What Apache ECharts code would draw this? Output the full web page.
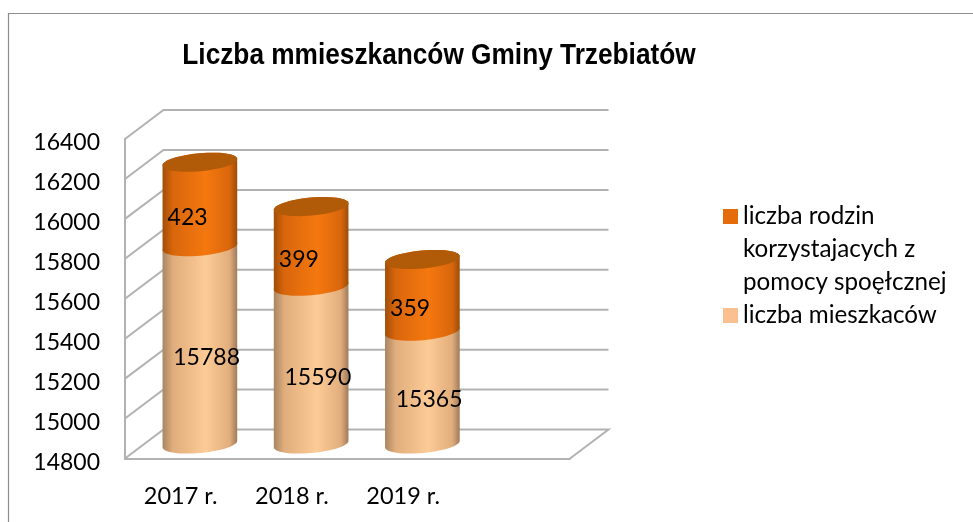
<!DOCTYPE html>
<html>
<head>
<meta charset="utf-8">
<style>html,body{margin:0;padding:0;background:#fff}#c{width:973px;height:522px}</style>
<script src="https://cdn.jsdelivr.net/npm/echarts@6/dist/echarts.min.js"></script>
</head>
<body>
<div id="c"></div>
<script>
const categories = ['2017 r.', '2018 r.', '2019 r.', ''];
const residents = [15788, 15590, 15365];
const families = [423, 399, 359];
const yTicks = [14800, 15000, 15200, 15400, 15600, 15800, 16000, 16200, 16400];
const residentsName = 'liczba mieszkaców';
const familiesName = 'liczba rodzin\nkorzystajacych z\npomocy spoęłcznej';
const titleText = 'Liczba mmieszkanców Gminy Trzebiatów';

const DEPTH_X = 38.5, DEPTH_Y = -29;
const LATIN = 'Lato, "Open Sans", sans-serif';
const GRID_COLOR = '#b2b2b2';
const yMin = yTicks[0], yMax = yTicks[yTicks.length - 1];

function ellipseArc(cx, cy, rx, ry, from, to, n) {
  const a = -5.2 * Math.PI / 180, pts = [];
  for (let i = 0; i <= n; i++) {
    const t = from + (to - from) * i / n;
    pts.push([
      cx + rx * Math.cos(t) * Math.cos(a) - ry * Math.sin(t) * Math.sin(a),
      cy + rx * Math.cos(t) * Math.sin(a) + ry * Math.sin(t) * Math.cos(a)
    ]);
  }
  return pts;
}
function grad(edgeL, mid, edgeR) {
  return { type: 'linear', x: 0, y: 0, x2: 1, y2: 0, colorStops: [
    { offset: 0, color: edgeL }, { offset: 0.14, color: mid[0] },
    { offset: 0.58, color: mid[1] }, { offset: 0.9, color: mid[0] }, { offset: 1, color: edgeR }
  ]};
}
function cylinder(fill, capColor, labelDx, labelDy) {
  return function (params, api) {
    const band = api.size([1, 0])[0];
    const rx = band * 0.337, ry = 9;
    const i = api.value(0);
    const b = api.coord([i, api.value(1)]);
    const t = api.coord([i, api.value(2)]);
    const cx = b[0] + DEPTH_X / 2;
    const by = b[1] + DEPTH_Y / 2, ty = t[1] + DEPTH_Y / 2;
    const sidePts = ellipseArc(cx, by, rx, ry, Math.PI, 0, 28).concat(ellipseArc(cx, ty, rx, ry, 0, -Math.PI, 28));
    const children = [{ type: 'polygon', shape: { points: sidePts }, style: { fill: fill } }];
    if (capColor) {
      children.push({ type: 'polygon', shape: { points: ellipseArc(cx, ty, rx, ry, 0, 2 * Math.PI, 56) }, style: { fill: capColor } });
    }
    children.push({
      type: 'text',
      style: {
        x: b[0] + labelDx, y: (by + ty) / 2 + labelDy,
        text: String(api.value(3)), align: 'center', verticalAlign: 'middle',
        font: '23px ' + LATIN, fill: '#000'
      }
    });
    return { type: 'group', children: children };
  };
}

const option = {
  animation: false,
  backgroundColor: '#fff',
  graphic: [{
    type: 'rect', silent: true, z: -1,
    shape: { x: 8.5, y: 13.5, width: 1000, height: 600 },
    style: { fill: 'none', stroke: '#8c8c8c', lineWidth: 1.2 }
  }, {
    type: 'text', silent: true,
    x: 439, y: 56, scaleX: 0.905,
    style: {
      text: titleText, align: 'center', verticalAlign: 'middle', fill: '#000',
      font: 'bold 29px "Liberation Sans", Arial, sans-serif'
    }
  }],
  legend: {
    left: 718, top: 129, orient: 'vertical', icon: 'rect',
    itemWidth: 15, itemHeight: 15, itemGap: 0,
    data: [familiesName, residentsName],
    selectedMode: false,
    formatter: function (n) { return n === familiesName ? '\u00a0\n\u00a0\n' + n : n; },
    textStyle: { fontFamily: LATIN, fontSize: 24.2, lineHeight: 33, color: '#000' }
  },
  grid: { left: 125, top: 139, width: 445, height: 319.5, containLabel: false },
  xAxis: {
    type: 'category', data: categories,
    axisTick: { show: false },
    axisLine: { show: true, lineStyle: { color: GRID_COLOR, width: 2 } },
    axisLabel: { margin: 26, color: '#000', fontFamily: LATIN, fontSize: 23.5, interval: 0 }
  },
  yAxis: {
    type: 'value', min: yMin, max: yMax, interval: 200,
    splitLine: { show: false },
    axisTick: { show: false },
    axisLine: { show: true, lineStyle: { color: GRID_COLOR, width: 2 } },
    axisLabel: { margin: 25, color: '#000', fontFamily: LATIN, fontSize: 23, verticalAlign: 'top', lineHeight: 8,
      formatter: function (v) { return String(v); } }
  },
  series: [
    {
      type: 'custom', name: 'walls', silent: true, z: 1,
      encode: { x: 0, y: 1 },
      data: yTicks.map(v => [0, v]),
      renderItem: function (params, api) {
        const cs = params.coordSys;
        const y = api.coord([0, api.value(1)])[1];
        const pts = [[cs.x, y], [cs.x + DEPTH_X, y + DEPTH_Y], [cs.x + cs.width + DEPTH_X, y + DEPTH_Y]];
        if (api.value(1) === yMin) pts.push([cs.x + cs.width, y]);
        return { type: 'polyline', shape: { points: pts }, style: { fill: 'none', stroke: GRID_COLOR, lineWidth: 2 } };
      }
    },
    {
      type: 'custom', name: residentsName, z: 2, silent: true,
      itemStyle: { color: '#fac090' },
      encode: { x: 0, y: [1, 2] },
      data: residents.map((v, i) => [i, yMin, v, v]),
      renderItem: cylinder(grad('#a98562', ['#e0ad7c', '#fdcb96'], '#a07a58'), null, 26, 12)
    },
    {
      type: 'custom', name: familiesName, z: 3, silent: true,
      itemStyle: { color: '#e46c0a' },
      encode: { x: 0, y: [1, 2] },
      data: families.map((v, i) => [i, residents[i], residents[i] + v, v]),
      renderItem: cylinder(grad('#a04e08', ['#d9660c', '#f5780f'], '#9c4c08'), '#b15a08', 7, 13)
    }
  ]
};
const chart = echarts.init(document.getElementById('c'), null, { renderer: 'canvas' });
chart.setOption(option);
</script>
</body>
</html>
